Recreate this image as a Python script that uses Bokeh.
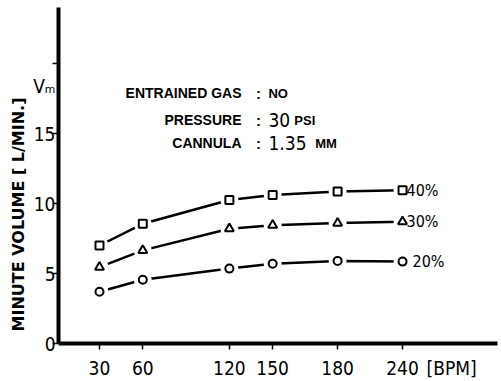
from bokeh.plotting import figure
from bokeh.models import Label, FixedTicker, LinearAxis
from bokeh.embed import file_html
from bokeh.resources import INLINE

# ---- data ----
bpm_labels = ["30", "60", "120", "150", "180", "240"]
# x values where the columns sit on the chart's (linear) BPM scale;
# the column labelled 180 sits where a linear scale puts ~195
bpm = [30, 60, 120, 150, 195, 240]
vol_40 = [7.0, 8.55, 10.25, 10.6, 10.85, 10.95]
vol_30 = [5.45, 6.65, 8.2, 8.45, 8.6, 8.7]
vol_20 = [3.7, 4.55, 5.35, 5.7, 5.9, 5.85]
series_labels = ["40%", "30%", "20%"]
y_ticks = [0, 5, 10, 15, 20]
y_tick_labels = ["0", "5", "10", "15", ""]

FONT = "DejaVu Sans Condensed"
FONT2 = "Liberation Sans"

p = figure(width=501, height=381, x_range=(1.6, 305.8), y_range=(0, 24),
           output_backend="svg", toolbar_location=None,
           min_border_left=58, min_border_right=4, min_border_top=7,
           min_border_bottom=38)
p.grid.visible = False
p.outline_line_color = None
p.background_fill_color = "white"

# main axes: lines and tick marks only
p.xaxis.ticker = FixedTicker(ticks=bpm)
p.xaxis.major_label_overrides = {b: "" for b in bpm}
p.yaxis.ticker = FixedTicker(ticks=y_ticks)
p.yaxis.major_label_overrides = {t: "" for t in y_ticks}
for ax in (p.xaxis, p.yaxis):
    ax.axis_line_width = 4
    ax.axis_line_color = "black"
    ax.major_tick_line_width = 1.5
    ax.major_tick_line_color = "black"
    ax.major_tick_in = 0
    ax.major_tick_out = 6
    ax.minor_tick_line_color = None
    ax.major_label_standoff = 0

# label axes: tick labels, units and titles without marks
bpm_unit_at = 274
xlab = LinearAxis(ticker=FixedTicker(ticks=bpm + [bpm_unit_at]))
xlab.major_label_overrides = {**{b: l for b, l in zip(bpm, bpm_labels)},
                              bpm_unit_at: "[BPM]"}
vm_at = 18.4
ylab = LinearAxis(ticker=FixedTicker(ticks=y_ticks[:4] + [vm_at]),
                  axis_label="MINUTE VOLUME [ L/MIN.]" + "\u00a0" * 14)
ylab.major_label_overrides = {**{t: l for t, l in zip(y_ticks, y_tick_labels)},
                              vm_at: "V\u2098"}
for ax in (xlab, ylab):
    ax.axis_line_color = None
    ax.major_tick_line_color = None
    ax.minor_tick_line_color = None
    ax.major_tick_in = 0
    ax.major_tick_out = 0
    ax.major_label_text_font = FONT
    ax.major_label_text_font_size = "19px"
    ax.major_label_text_color = "black"
xlab.major_label_standoff = 7
ylab.major_label_standoff = -3
ylab.axis_label_text_font = "DejaVu Sans"
ylab.axis_label_text_font_size = "16px"
ylab.axis_label_text_font_style = "bold"
ylab.axis_label_text_color = "black"
ylab.axis_label_standoff = 2
p.add_layout(xlab, "below")
p.add_layout(ylab, "left")

# series
for vals, marker, msize, name in zip([vol_40, vol_30, vol_20],
                                     ["square", "triangle", "circle"],
                                     [8, 9, 8], series_labels):
    p.line(bpm, vals, line_color="black", line_width=2.5)
    p.scatter(bpm, vals, size=18, marker="circle", fill_color="white",
              line_color=None)
    p.scatter(bpm, vals, size=msize, marker=marker, fill_color="white",
              line_color="black", line_width=2)
    off = 10 if name == "20%" else 4
    p.add_layout(Label(x=bpm[-1], y=vals[-1], x_offset=off, text=name,
                       text_font=FONT, text_font_size="16px",
                       text_baseline="middle", text_align="left",
                       text_color="black"))

# annotation block
rows = [("ENTRAINED GAS", "NO", ""), ("PRESSURE", "30", "PSI"),
        ("CANNULA", "1.35", "MM")]
row_y = [17.86, 15.93, 14.29]
unit_x = [0, 165.0, 179.5]
for (lab, val, unit), yy, ux in zip(rows, row_y, unit_x):
    p.add_layout(Label(x=128.4, y=yy, text=lab, text_font=FONT2,
                       text_font_size="14px", text_font_style="bold",
                       text_align="right", text_baseline="middle",
                       text_color="black"))
    p.add_layout(Label(x=140.2, y=yy, text=":", text_font=FONT2,
                       text_font_size="15px", text_font_style="bold",
                       text_align="center", text_baseline="middle",
                       text_color="black"))
    big = val[0].isdigit()
    p.add_layout(Label(x=147.1, y=yy, text=val,
                       text_font=FONT if big else FONT2,
                       text_font_size="19px" if big else "13px",
                       text_font_style="normal" if big else "bold",
                       text_align="left", text_baseline="middle",
                       text_color="black"))
    if unit:
        p.add_layout(Label(x=ux, y=yy, text=unit, text_font=FONT2,
                           text_font_size="13px", text_font_style="bold",
                           text_align="left", text_baseline="middle",
                           text_color="black"))

open("out.html", "w").write(file_html(p, INLINE))
